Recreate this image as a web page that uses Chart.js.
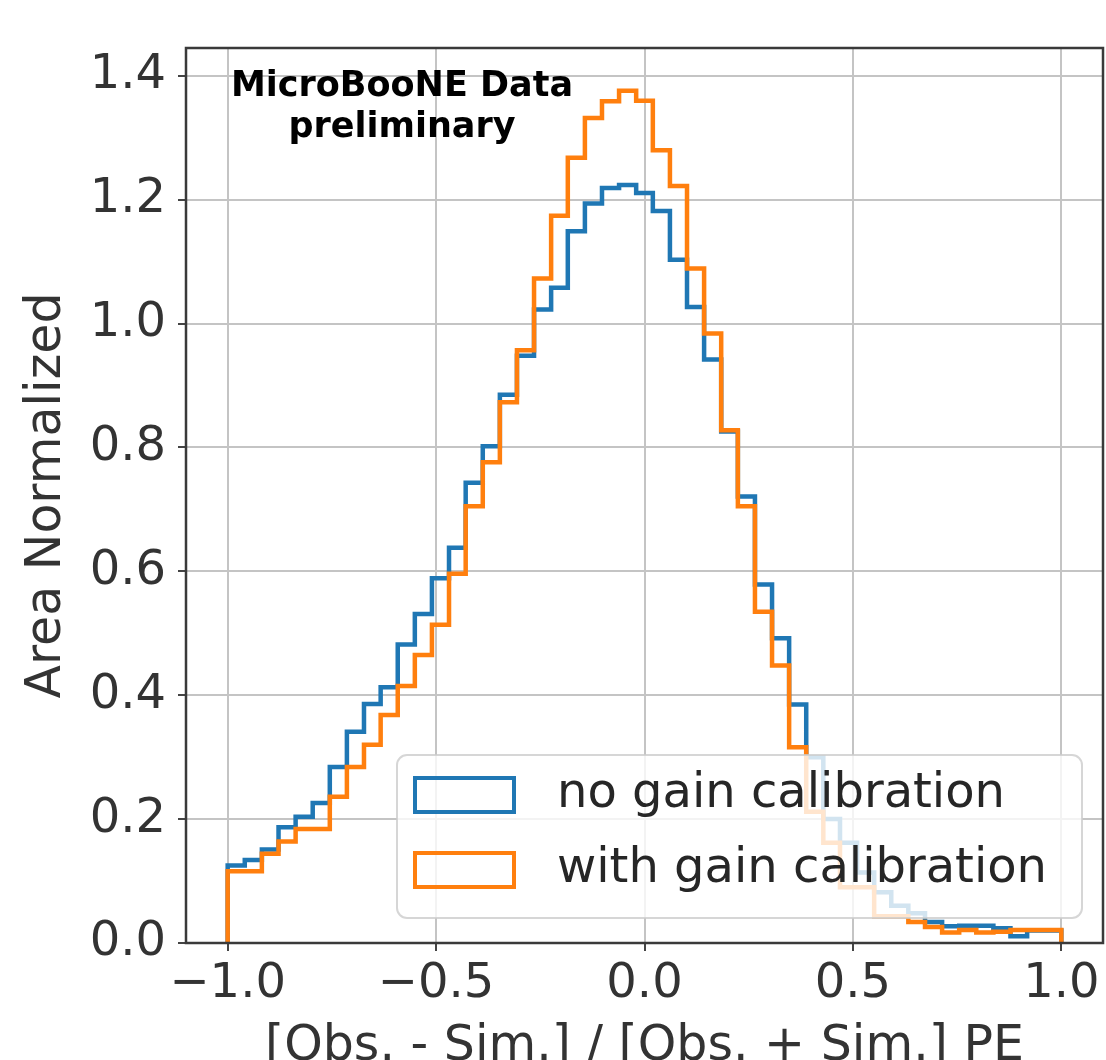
<!DOCTYPE html>
<html>
<head>
<meta charset="utf-8">
<script src="https://cdn.jsdelivr.net/npm/chart.js@4.4.0/dist/chart.umd.min.js"></script>
<style>
  html, body { margin: 0; padding: 0; background: #fff; }
  #wrap { width: 1106px; height: 1060px; position: relative; }
</style>
</head>
<body>
<div id="wrap"><canvas id="histCanvas"></canvas></div>
<script>
// 49 bins between -1 and 1
const binEdges = [
  -1.000, -0.959, -0.918, -0.878, -0.837, -0.796, -0.755, -0.714, -0.673, -0.633,
  -0.592, -0.551, -0.510, -0.469, -0.429, -0.388, -0.347, -0.306, -0.265, -0.224,
  -0.184, -0.143, -0.102, -0.061, -0.020, 0.020, 0.061, 0.102, 0.143, 0.184,
  0.224, 0.265, 0.306, 0.347, 0.388, 0.429, 0.469, 0.510, 0.551, 0.592,
  0.633, 0.673, 0.714, 0.755, 0.796, 0.837, 0.878, 0.918, 0.959, 1.000
];

const noGainCal = [
  0.125, 0.134, 0.151, 0.187, 0.204, 0.226, 0.284, 0.341, 0.386, 0.413,
  0.482, 0.531, 0.589, 0.638, 0.743, 0.802, 0.885, 0.948, 1.023, 1.058,
  1.149, 1.194, 1.219, 1.224, 1.211, 1.182, 1.103, 1.027, 0.942, 0.826,
  0.721, 0.579, 0.492, 0.385, 0.300, 0.200, 0.162, 0.114, 0.082, 0.060,
  0.048, 0.034, 0.027, 0.028, 0.028, 0.024, 0.011, 0.020, 0.020
];

const withGainCal = [
  0.116, 0.116, 0.144, 0.164, 0.184, 0.184, 0.236, 0.284, 0.320, 0.368,
  0.415, 0.465, 0.514, 0.596, 0.705, 0.776, 0.873, 0.957, 1.073, 1.174,
  1.268, 1.332, 1.359, 1.376, 1.360, 1.280, 1.222, 1.089, 0.984, 0.828,
  0.705, 0.535, 0.448, 0.316, 0.212, 0.162, 0.090, 0.090, 0.043, 0.043,
  0.034, 0.026, 0.017, 0.021, 0.017, 0.018, 0.021, 0.021, 0.021
];

const xTicks = [-1.0, -0.5, 0.0, 0.5, 1.0];
const yTicks = [0.0, 0.2, 0.4, 0.6, 0.8, 1.0, 1.2, 1.4];
const seriesLabels = ['no gain calibration', 'with gain calibration'];
const noteLines = ['MicroBooNE Data', 'preliminary'];

const FONT = "'DejaVu Sans', 'Liberation Sans', sans-serif";

// histtype='step' outline: up at first edge, flat over each bin, down at last edge
function stepPoints(values) {
  const last = binEdges.length - 1;
  const pts = [{ x: binEdges[0], y: 0 }];
  values.forEach((v, i) => pts.push({ x: binEdges[i], y: v }));
  pts.push({ x: binEdges[last], y: values[values.length - 1] });
  pts.push({ x: binEdges[last], y: 0 });
  return pts;
}

function fmtTick(v) {
  const s = Math.abs(v).toFixed(1);
  return v < 0 ? '\u2212' + s : s;
}

const notePlugin = {
  id: 'note',
  afterDatasetsDraw(chart) {
    const ctx = chart.ctx;
    ctx.save();
    ctx.fillStyle = '#000';
    ctx.font = 'bold 35px ' + FONT;
    ctx.textAlign = 'center';
    ctx.textBaseline = 'alphabetic';
    ctx.fillText(noteLines[0], 402, 96);
    ctx.fillText(noteLines[1], 402, 137);
    ctx.restore();
  }
};

const legendPlugin = {
  id: 'boxLegend',
  afterDatasetsDraw(chart) {
    const ctx = chart.ctx;
    const x = 397, y = 755, w = 685, h = 163;
    ctx.save();
    ctx.beginPath();
    ctx.roundRect(x, y, w, h, 10);
    ctx.fillStyle = 'rgba(255,255,255,0.8)';
    ctx.fill();
    ctx.lineWidth = 2;
    ctx.strokeStyle = 'rgba(204,204,204,0.8)';
    ctx.stroke();

    const sets = [chart.data.datasets[0], chart.data.datasets[1]];
    ctx.font = '48px ' + FONT;
    ctx.textBaseline = 'middle';
    ctx.textAlign = 'left';
    sets.forEach((ds, i) => {
      const ry = 778 + i * 75;
      ctx.lineWidth = 4;
      ctx.strokeStyle = ds.borderColor;
      ctx.strokeRect(415, ry, 99, 34);
      ctx.fillStyle = '#262626';
      ctx.fillText(ds.label, 557, ry + 17);
    });
    ctx.restore();
  }
};

const framePlugin = {
  id: 'frame',
  afterDraw(chart) {
    const a = chart.chartArea;
    const ctx = chart.ctx;
    ctx.save();
    ctx.strokeStyle = '#3a3a3a';
    ctx.lineWidth = 2.5;
    ctx.strokeRect(a.left, a.top, a.right - a.left, a.bottom - a.top);
    ctx.restore();
  }
};

const ctx = document.getElementById('histCanvas').getContext('2d');
new Chart(ctx, {
  type: 'line',
  data: {
    datasets: [
      {
        label: seriesLabels[0],
        data: stepPoints(noGainCal),
        borderColor: '#1f77b4',
        borderWidth: 4.5,
        stepped: true,
        pointRadius: 0,
        fill: false,
        order: 1
      },
      {
        label: seriesLabels[1],
        data: stepPoints(withGainCal),
        borderColor: '#ff7f0e',
        borderWidth: 4.5,
        stepped: true,
        pointRadius: 0,
        fill: false,
        order: 0
      }
    ]
  },
  options: {
    responsive: true,
    maintainAspectRatio: false,
    animation: false,
    layout: { padding: { top: 48, right: 3, left: 0, bottom: 0 } },
    plugins: {
      legend: { display: false },
      tooltip: { enabled: false }
    },
    scales: {
      x: {
        type: 'linear',
        min: -1.1,
        max: 1.1,
        afterBuildTicks: axis => { axis.ticks = xTicks.map(v => ({ value: v })); },
        afterFit: axis => { axis.height = 117; },
        border: { display: false },
        grid: { color: '#c4c4c4', lineWidth: 2, tickLength: 8, tickColor: '#444', tickWidth: 2 },
        ticks: {
          font: { family: FONT, size: 48 },
          color: '#333',
          padding: 5,
          maxRotation: 0,
          autoSkip: false,
          callback: v => fmtTick(v)
        },
        title: {
          display: true,
          text: '[Obs. - Sim.] / [Obs. + Sim.] PE',
          font: { family: FONT, size: 49, lineHeight: 0.51 },
          color: '#333',
          padding: 0
        }
      },
      y: {
        type: 'linear',
        min: 0,
        max: 1.445,
        afterBuildTicks: axis => { axis.ticks = yTicks.map(v => ({ value: v })); },
        afterFit: axis => { axis.width = 186; },
        border: { display: false },
        grid: { color: '#c4c4c4', lineWidth: 2, tickLength: 8, tickColor: '#444', tickWidth: 2 },
        ticks: {
          font: { family: FONT, size: 48 },
          color: '#333',
          padding: 12,
          callback: v => fmtTick(v)
        },
        title: {
          display: true,
          text: 'Area Normalized',
          font: { family: FONT, size: 49, lineHeight: 1.2 },
          color: '#333',
          padding: { top: 18, bottom: 0 }
        }
      }
    }
  },
  plugins: [notePlugin, legendPlugin, framePlugin]
});
</script>
</body>
</html>
